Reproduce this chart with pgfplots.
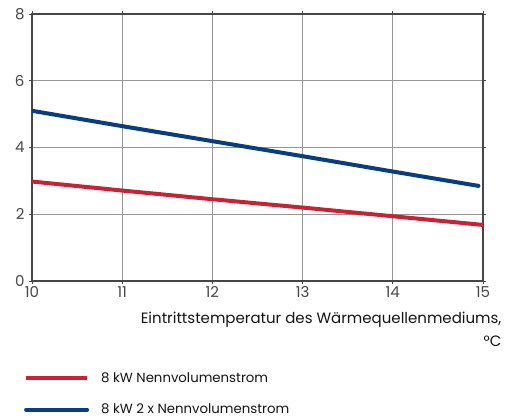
\documentclass[border=0pt]{standalone}
\usepackage{pgfplots}
\pgfplotsset{compat=1.18}
\usepackage{fontspec}
\setmainfont{Poppins}
\definecolor{kwred}{RGB}{200,35,52}
\definecolor{kwblue}{RGB}{8,62,128}
\definecolor{gridgray}{RGB}{150,150,150}
\definecolor{axisgray}{RGB}{70,70,70}
\definecolor{txt}{RGB}{20,20,20}
\begin{document}
\begin{tikzpicture}
\begin{axis}[
    scale only axis,
    width=451pt, height=267pt,
    xmin=10, xmax=15,
    ymin=0, ymax=8,
    xtick={10,11,12,13,14,15},
    ytick={0,2,4,6,8},
    grid=major,
    major grid style={gridgray, line width=0.8pt},
    axis line style={axisgray, line width=1.3pt},
    tick align=outside,
    major tick length=3pt,
    tick style={axisgray, line width=0.8pt},
    tick label style={font=\fontsize{15}{17}\selectfont, text=black!72},
    /pgf/number format/assume math mode=true,
    xticklabel style={yshift=1pt},
    yticklabel style={xshift=-1pt},
    xlabel={Eintrittstemperatur des Wärmequellenmediums,\\°C},
    xlabel style={at={(axis description cs:1,0)}, anchor=north east,
        align=right, xshift=22pt, yshift=-28pt,
        font=\fontsize{15}{23}\selectfont, text=txt},
    legend style={at={(axis description cs:-0.018,-0.335)}, anchor=north west,
        draw=none, fill=none, font=\fontsize{13.3}{16}\selectfont, text=txt,
        row sep=16pt, inner sep=0pt},
    legend cell align=left,
    legend image code/.code={\draw[#1, line width=4pt] (0pt,0pt) -- (61pt,0pt);},
    legend style={nodes={inner xsep=12pt}},
]
\addplot[kwred, line width=4pt] coordinates {
    (10,2.98) (11,2.71) (12,2.45) (13,2.20) (14,1.94) (15,1.68)};
\addlegendentry{8 kW Nennvolumenstrom}
\addplot[kwblue, line width=4pt, line cap=round] coordinates {
    (10,5.10) (11,4.64) (12,4.19) (13,3.74) (14,3.28) (14.95,2.85)};
\addlegendentry{8 kW 2 x Nennvolumenstrom}
\end{axis}
\path[use as bounding box] (-32pt,-138pt) rectangle (488pt,281pt);
\end{tikzpicture}
\end{document}
